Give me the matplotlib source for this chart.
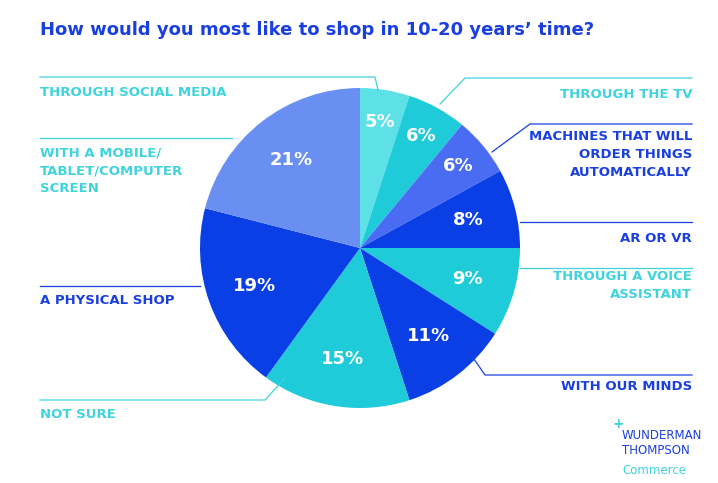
import numpy as np
import matplotlib.pyplot as plt

W, H = 718, 483

labels = ["THROUGH SOCIAL MEDIA", "THROUGH THE TV", "MACHINES THAT WILL\nORDER THINGS\nAUTOMATICALLY",
          "AR OR VR", "THROUGH A VOICE\nASSISTANT", "WITH OUR MINDS", "NOT SURE",
          "A PHYSICAL SHOP", "WITH A MOBILE/\nTABLET/COMPUTER\nSCREEN"]
values = [5, 6, 6, 8, 9, 11, 15, 19, 21]
colors = ["#5ee1e6", "#1fcbd9", "#4a6cf2", "#0b3fe6", "#1fcbd9", "#0b3fe6", "#1fcbd9", "#0b3fe6", "#6a8ff2"]
text_colors = ["#3fd3dd", "#3fd3dd", "#1a3fe0", "#1a3fe0", "#3fd3dd", "#1a3fe0", "#3fd3dd", "#1a3fe0", "#3fd3dd"]

BLUE = "#1a3fe0"
CYAN = "#3fd3dd"


def px(x, y):
    return x / W, 1 - y / H


fig = plt.figure(figsize=(W / 100, H / 100), dpi=100)
ax = fig.add_axes([200 / W, 1 - 408 / H, 320 / W, 320 / H])
wedges, texts = ax.pie(values, colors=colors, startangle=90, counterclock=False,
                       wedgeprops=dict(linewidth=0))
ax.set_xlim(-1, 1)
ax.set_ylim(-1, 1)
ax.set_aspect("equal")

ang = 90.0
for v, w in zip(values, wedges):
    mid = np.deg2rad(ang - v * 3.6 / 2)
    r = 0.7 if v > 7 else 0.8
    ax.text(r * np.cos(mid), r * np.sin(mid), f"{v}%", ha="center", va="center",
            color="white", fontsize=13, fontweight="bold")
    ang -= v * 3.6

fig.text(*px(40, 30), "How would you most like to shop in 10-20 years\u2019 time?",
         color=BLUE, fontsize=13, fontweight="bold", va="center")

# label positions (pixels): x, y, ha, leader line points
layout = [
    (40, 92, "left", [(40, 77), (375, 77), (378, 90)]),
    (692, 94, "right", [(692, 78), (465, 78), (440, 104)]),
    (692, 155, "right", [(692, 124), (530, 124), (492, 152)]),
    (692, 239, "right", [(692, 222), (520, 222)]),
    (692, 285, "right", [(692, 268), (520, 268)]),
    (692, 386, "right", [(692, 375), (485, 375), (465, 346)]),
    (40, 414, "left", [(40, 400), (265, 400), (285, 378)]),
    (40, 301, "left", [(40, 286), (200, 286)]),
    (40, 171, "left", [(40, 138), (232, 138)]),
]
for lab, tc, (x, y, ha, pts) in zip(labels, text_colors, layout):
    fig.text(*px(x, y), lab, color=tc, fontsize=9.5, fontweight="bold", ha=ha,
             va="center", multialignment=ha, linespacing=1.5)
    xs = [p[0] / W for p in pts]
    ys = [1 - p[1] / H for p in pts]
    fig.add_artist(plt.Line2D(xs, ys, color=tc, lw=0.9, transform=fig.transFigure))

fig.text(*px(613, 424), "+", color=CYAN, fontsize=10, fontweight="bold", va="center")
fig.text(*px(622, 443), "WUNDERMAN\nTHOMPSON", color=BLUE, fontsize=8.5, va="center", linespacing=1.15)
fig.text(*px(622, 471), "Commerce", color=CYAN, fontsize=8.5, va="center")

fig.savefig("out.png", dpi=100)
